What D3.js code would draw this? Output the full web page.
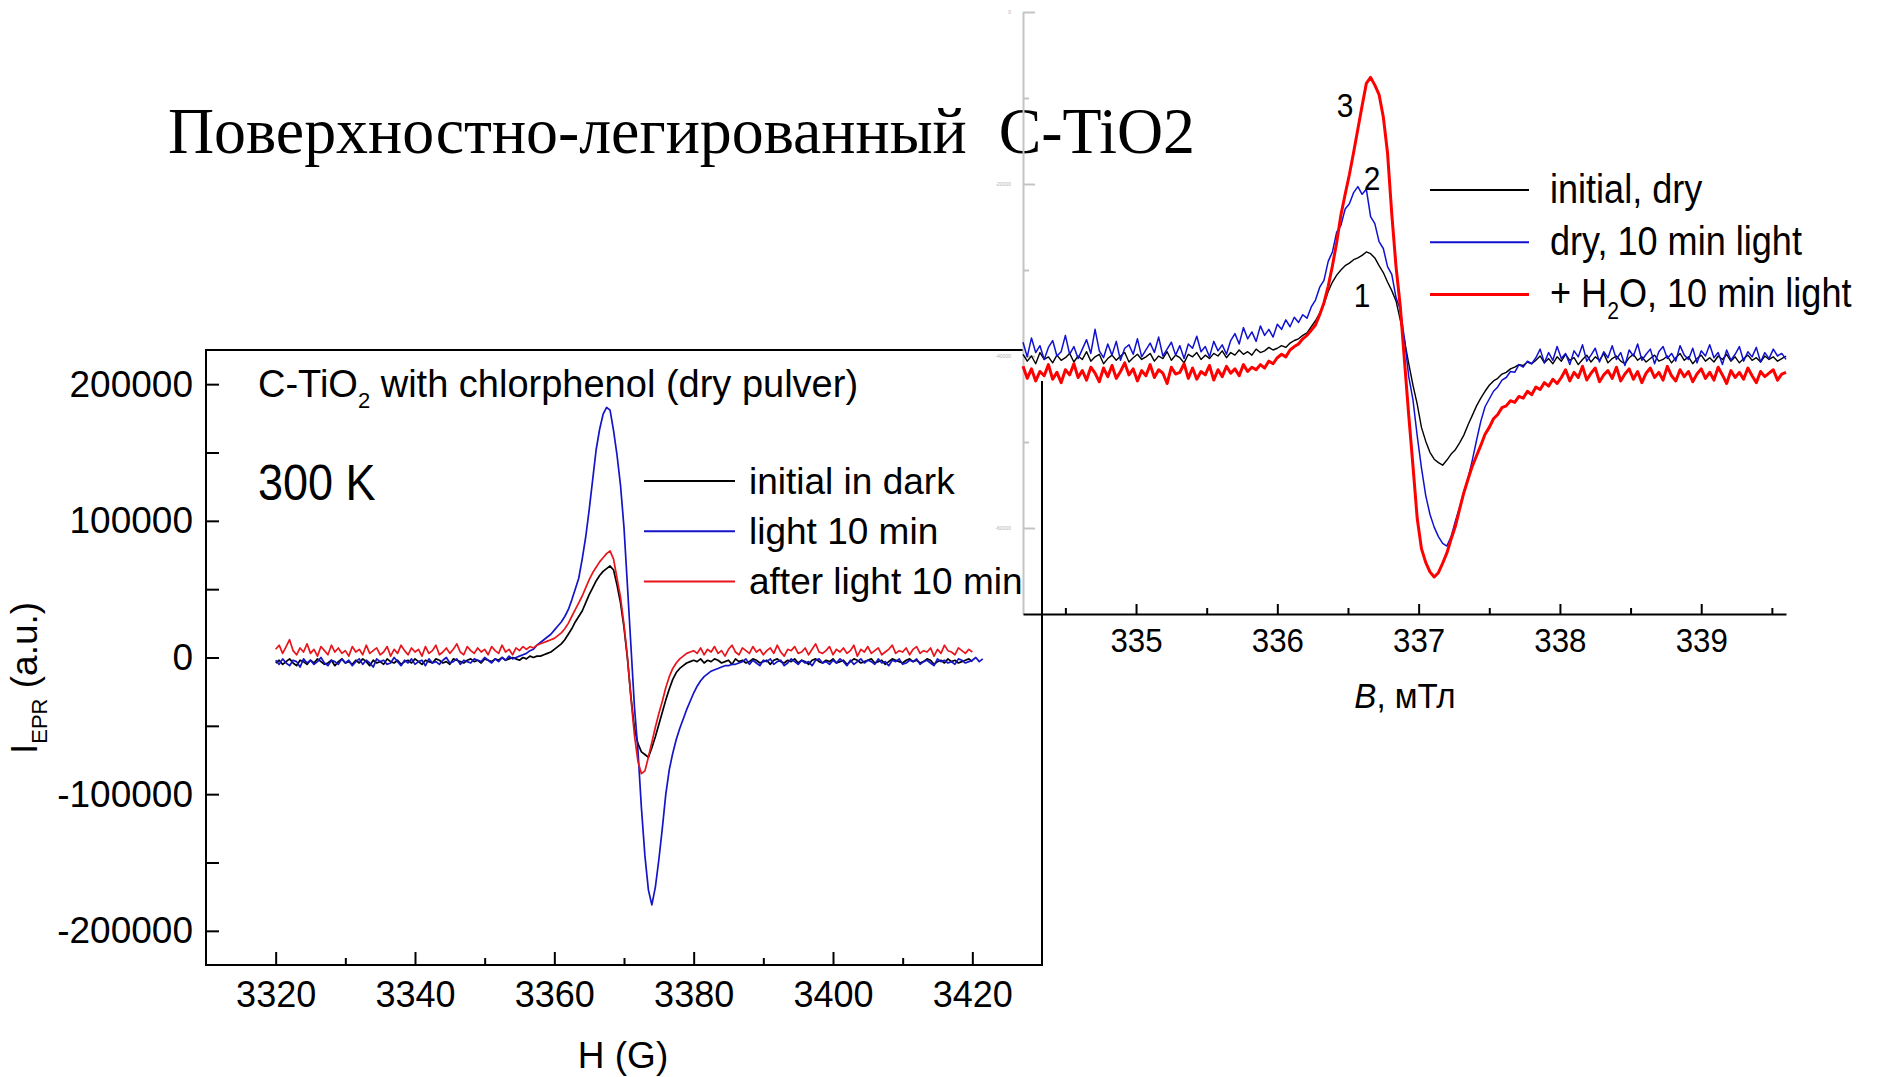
<!DOCTYPE html>
<html>
<head>
<meta charset="utf-8">
<title>EPR C-TiO2</title>
<script src="https://cdn.jsdelivr.net/npm/d3@7"></script>
<style>
  html, body { margin: 0; padding: 0; background: #fff; }
  svg { display: block; }
</style>
</head>
<body>
<svg id="chart" width="1880" height="1077"></svg>
<script>
// ---------- Left panel: C-TiO2 with chlorphenol, 300 K (field in G, intensity in units of 1000) ----------
const leftStart = 3320;   // G
const leftStep = 0.5;     // G
const leftTitle = "C-TiO";
const leftTemp = "300 K";
const leftSeriesNames = ["initial in dark", "light 10 min", "after light 10 min"];
const leftXTicks = [3320, 3340, 3360, 3380, 3400, 3420];
const leftXMinor = [3330, 3350, 3370, 3390, 3410];
const leftYTicks = [-200000, -100000, 0, 100000, 200000];
const leftYMinor = [-150000, -50000, 50000, 150000];

const darkK = [
  -4,-2,-5,-3,-1,-4,-6,-2,-3,-5,-2,-4,-1,-3,-5,-4,-2,-6,-3,-1,
  -4,-3,-5,-2,-4,-1,-3,-6,-2,-4,-3,-5,-1,-3,-4,-2,-5,-3,-2,-4,
  -1,-3,-5,-2,-3,-4,-1,-2,-4,-3,-5,-1,-2,-3,-4,-2,-1,-3,-2,-4,
  -1,-2,-3,-1,-2,0,-2,-1,0,-1,-2,0,-1,1,0,1,
  1,2,3,4,6,8,10,13,17,21,26,30,34,40,46,51,56,60,63,65,67,64,53,40,22,-1,
  -29,-52,-63,-69,-71,-73,-66,-58,-49,-40,-31,-23,-16,-11,-8,-6,-4,-3,
  -2,-3,-1,-4,-2,-3,-1,-2,-4,-3,-2,-5,-1,-3,-2,-4,-3,-1,-2,-4,
  -3,-2,-5,-2,-1,-3,-4,-2,-3,-1,-4,-2,-3,-5,-2,-1,-3,-4,-2,-3,
  -1,-4,-3,-2,-5,-3,-1,-2,-4,-3,-2,-1,-4,-3,-2,-5,-3,-1,-2,-3,
  -4,-2,-1,-3,-2,-4,-3,-1,-2,-5,-3,-2,-4,-1,-3,-2,-4,-3,-2,-1,
  -3
];
const lightK = [
  -2,-5,-1,-4,-6,-2,-3,-7,-1,-4,-2,-5,-3,0,-4,-6,-2,-3,-5,-1,
  -4,-2,-6,-3,-1,-5,-2,-4,-7,-1,-3,-2,-5,-4,0,-3,-6,-2,-4,-1,
  -5,-3,-2,-6,-1,-4,-3,-5,-2,0,-4,-3,-1,-5,-2,-3,-4,-1,-2,-3,
  0,-2,-4,-1,-3,0,-2,1,-1,0,
  1,2,3,5,6,9,11,13,15,17,20,23,26,30,35,42,50,58,72,88,
  108,130,152,167,178,183,181,166,148,126,95,52,8,-36,-68,-110,-145,-170,-181,-168,
  -148,-125,-100,-82,-70,-60,-52,-45,-38,-32,-26,-21,-17,-14,-12,-10,-9,-8,-7,-6,
  -6,-5,-5,-4,
  -3,-1,-5,-2,-4,-6,-2,-3,-1,-5,-3,-2,-6,-4,-1,-3,-5,-2,-4,-3,
  -6,-2,-1,-4,-3,-5,-2,-4,-1,-3,-6,-2,-5,-3,-1,-4,-2,-3,-5,-1,
  -4,-3,-6,-2,-3,-1,-5,-4,-2,-3,-1,-5,-3,-2,-4,-6,-1,-3,-2,-4,
  -3,-5,-1,-2,-4,-3,-2,0,-3,-1
];
const afterK = [
  6,9,3,8,13,5,2,7,4,10,3,6,1,8,5,2,9,4,7,3,
  5,1,8,4,6,2,9,3,5,7,2,4,8,1,6,3,9,5,2,7,
  4,6,1,8,3,5,9,2,4,7,3,6,10,4,2,8,5,3,7,4,
  6,2,8,5,3,9,4,6,2,7,5,8,
  6,8,7,9,10,11,12,13,14,16,18,21,25,30,35,40,45,51,57,62,
  66,70,73,76,78,72,58,44,24,0,-30,-57,-76,-85,-83,-73,-62,-51,-41,-32,
  -22,-14,-8,-4,-1,1,3,4,
  5,3,7,2,6,4,8,3,5,1,6,9,4,2,7,5,3,8,4,6,
  2,5,7,3,9,4,1,6,5,8,3,4,7,2,6,10,4,3,5,8,
  2,6,4,7,3,5,9,1,6,4,8,3,5,7,2,4,6,9,3,5,
  4,7,2,6,8,3,5,4,7,1,6,3,9,5,4,2,7,5,3,6,
  4
];

// ---------- Right panel: B in mT, signal in units of 1000 ----------
const rightStart = 334.2;  // mT
const rightStep = 0.03;    // mT
const rightSeriesNames = ["initial, dry", "dry, 10 min light", "+ H2O, 10 min light"];
const rightXTicks = [335, 336, 337, 338, 339];
const rightXMinor = [334.5, 335.5, 336.5, 337.5, 338.5, 339.5];
const rightYTicks = [-60000, -40000, -20000, 0];
const rightYMinor = [-50000, -30000, -10000];
const curveTags = [
  { tag: "3", b: 336.48, v: -10800 },
  { tag: "2", b: 336.67, v: -19300 },
  { tag: "1", b: 336.60, v: -32900 }
];

const dryK = [
  -39.8,-40.6,-40.0,-40.9,-39.6,-40.4,-40.1,-40.8,-39.9,-40.5,
  -40.2,-39.7,-40.7,-40.0,-40.4,-39.5,-40.6,-40.1,-39.8,-40.9,
  -40.3,-39.9,-40.5,-40.0,-39.6,-40.7,-40.2,-39.8,-40.4,-40.1,
  -39.7,-40.6,-40.0,-40.3,-39.5,-40.5,-39.9,-40.2,-40.8,-39.8,
  -40.1,-39.6,-40.4,-39.9,-40.3,-39.7,-40.0,-39.4,-40.2,-39.6,
  -39.9,-39.3,-39.8,-39.5,-39.9,-39.2,-39.6,-39.4,-39.0,-39.3,
  -39.1,-38.8,-39.0,-38.5,-38.2,-38.0,-37.6,-37.3,-36.6,-35.9,
  -35.0,-34.0,-32.5,-31.4,-30.6,-30.0,-29.5,-29.2,-28.8,-28.6,
  -28.3,-27.9,-28.1,-28.6,-29.5,-30.3,-31.4,-32.4,-33.6,-35.8,
  -38.2,-40.9,-43.4,-45.6,-48.3,-49.9,-51.2,-52.0,-52.4,-52.7,
  -52.1,-51.4,-50.9,-50.1,-49.2,-48.0,-46.9,-45.8,-44.9,-44.1,
  -43.4,-42.9,-42.6,-42.1,-41.9,-41.5,-41.3,-41.0,-41.1,-40.7,
  -40.9,-40.5,
  -40.0,-40.8,-40.3,-40.9,-40.1,-40.6,-39.8,-40.5,-40.2,-41.0,
  -40.4,-39.9,-40.7,-40.1,-40.5,-39.7,-40.8,-40.3,-40.0,-40.6,
  -40.9,-40.2,-39.8,-40.5,-40.1,-40.7,-40.3,-39.9,-40.6,-40.4,
  -40.0,-40.8,-40.2,-39.7,-40.5,-40.1,-40.9,-40.3,-39.9,-40.6,
  -40.2,-40.7,-40.0,-40.4,-39.8,-40.6,-40.1,-40.8,-40.3,-39.9,
  -40.5,-40.2,-40.7,-40.0,-40.4,-40.1,-40.6,-40.3,-40.0
];
const dryLightK = [
  -38.4,-40.1,-37.9,-39.6,-38.8,-40.4,-39.0,-38.2,-40.0,-39.5,
  -37.6,-39.8,-38.9,-40.3,-39.2,-38.1,-39.7,-36.9,-39.4,-40.2,
  -38.6,-39.9,-38.3,-40.5,-39.1,-38.7,-39.8,-38.0,-40.1,-39.3,
  -38.5,-39.6,-37.8,-40.0,-39.2,-38.4,-39.9,-38.8,-40.3,-38.6,
  -39.1,-37.7,-39.5,-38.9,-40.1,-38.3,-39.4,-38.7,-39.8,-38.2,
  -37.4,-38.6,-36.7,-38.0,-37.2,-38.3,-36.5,-37.6,-36.9,-37.8,
  -36.3,-36.9,-35.8,-36.6,-35.5,-36.1,-35.2,-35.6,
  -34.3,-33.5,-32.0,-31.2,-29.0,-27.9,-25.6,-24.8,-22.9,-22.3,
  -21.0,-20.3,-21.2,-20.6,-23.8,-24.6,-26.7,-27.5,-29.6,-30.5,
  -33.2,-34.6,-38.0,-42.4,-45.1,-49.3,-53.0,-56.2,-58.4,-59.9,
  -61.0,-61.8,-62.1,-61.0,-59.2,-57.6,-55.8,-54.2,-52.1,-49.8,
  -47.6,-45.9,-45.0,-44.1,-43.6,-42.8,-42.5,-41.8,-41.9,-41.0,
  -41.3,-40.6,-40.9,-40.2,
  -39.2,-40.8,-39.6,-40.5,-38.9,-40.3,-39.7,-41.0,-39.4,-40.1,
  -38.7,-40.6,-39.9,-39.1,-40.7,-39.5,-40.2,-38.8,-40.4,-39.6,
  -41.1,-39.3,-40.0,-38.6,-40.5,-39.8,-39.2,-40.9,-39.5,-38.9,
  -40.3,-39.7,-40.6,-38.8,-39.9,-40.4,-39.1,-40.8,-39.4,-40.0,
  -38.7,-40.2,-39.6,-41.0,-39.3,-40.5,-39.8,-38.9,-40.6,-39.5,
  -40.1,-39.0,-40.7,-39.6,-40.3,-39.2,-40.0,-39.7,-40.4
];
const waterLightK = [
  -41.2,-42.6,-41.5,-42.9,-41.8,-42.3,-41.0,-42.7,-41.9,-43.1,
  -41.6,-42.2,-40.9,-42.5,-41.7,-42.8,-41.3,-42.0,-43.0,-41.4,
  -42.4,-41.1,-42.6,-41.8,-40.8,-42.2,-41.5,-42.9,-41.7,-42.3,
  -41.0,-42.5,-41.6,-42.0,-43.2,-41.3,-42.1,-41.9,-40.9,-42.6,
  -41.4,-42.7,-41.8,-42.2,-41.1,-42.8,-41.6,-42.4,-41.2,-42.0,
  -41.5,-42.3,-41.0,-41.8,-41.3,-41.6,
  -41.0,-41.4,-40.6,-40.9,-40.2,-39.8,-40.1,-39.3,-38.9,-38.6,
  -38.0,-37.6,-37.0,-36.4,-35.2,-33.8,-31.9,-29.5,-26.8,-23.6,
  -21.2,-18.9,-16.3,-13.6,-10.9,-8.3,-7.6,-8.5,-9.6,-12.2,
  -16.4,-23.5,-29.6,-34.2,-40.6,-46.9,-52.8,-58.9,-62.4,-64.0,
  -65.1,-65.7,-65.2,-64.1,-62.9,-61.3,-59.8,-57.8,-55.9,-54.3,
  -52.8,-51.6,-50.4,-49.1,-48.3,-47.3,-46.8,-46.0,-45.8,-45.2,
  -45.4,-44.7,-44.9,-44.1,-44.5,-43.6,-43.9,-43.1,-43.5,-42.7,
  -43.2,-42.5,
  -41.6,-42.9,-41.9,-42.5,-41.2,-42.8,-42.0,-41.4,-43.0,-42.2,
  -41.7,-42.6,-41.3,-42.9,-42.1,-41.5,-42.7,-41.8,-43.1,-42.0,
  -41.4,-42.5,-41.9,-42.8,-41.2,-42.3,-42.9,-41.6,-42.4,-41.8,
  -43.0,-42.1,-41.5,-42.6,-41.9,-42.8,-41.3,-42.2,-43.2,-41.7,
  -42.5,-41.9,-42.7,-41.4,-42.3,-43.1,-41.8,-42.4,-42.0,-41.6,
  -42.8,-42.1,-41.9
];

const pageTitle = "Поверхностно-легированный  C-TiO2";

// ---------- drawing ----------
const SANS = "'Liberation Sans', Arial, Helvetica, sans-serif";
const SERIF = "'Liberation Serif', 'Times New Roman', serif";
const svg = d3.select("#chart");

const toPoints = (start, step, vals) => vals.map((v, i) => ({ x: start + i * step, y: v * 1000 }));

// Heading
svg.append("text")
  .attr("x", 168).attr("y", 153)
  .attr("font-family", SERIF).attr("font-size", 66)
  .attr("textLength", 1027).attr("lengthAdjust", "spacingAndGlyphs")
  .style("white-space", "pre")
  .text(pageTitle);

// ===== Left panel =====
const L = { x0: 206, x1: 1042, y0: 350, y1: 965 };
const xL = d3.scaleLinear().domain([3310, 3430]).range([L.x0, L.x1]);
const yL = d3.scaleLinear().domain([-225000, 225000]).range([L.y1, L.y0]);
const gL = svg.append("g");

function styleAxis(g, fs, color) {
  g.select(".domain").remove();
  g.selectAll(".tick line").attr("stroke", color).attr("stroke-width", 2);
  g.selectAll(".tick text").attr("font-family", SANS).attr("font-size", fs).attr("fill", color === "#000" ? "#000" : color);
}

gL.append("g").attr("transform", `translate(0,${L.y1})`)
  .call(d3.axisBottom(xL).tickValues(leftXTicks).tickSize(-13).tickPadding(16).tickFormat(d => String(d)))
  .call(g => styleAxis(g, 36, "#000"));
gL.append("g").attr("transform", `translate(0,${L.y1})`)
  .call(d3.axisBottom(xL).tickValues(leftXMinor).tickSize(-7).tickFormat(""))
  .call(g => styleAxis(g, 10, "#000"));
gL.append("g").attr("transform", `translate(${L.x0},0)`)
  .call(d3.axisLeft(yL).tickValues(leftYTicks).tickSize(-13).tickPadding(13).tickFormat(d => String(d)))
  .call(g => styleAxis(g, 37, "#000"));
gL.append("g").attr("transform", `translate(${L.x0},0)`)
  .call(d3.axisLeft(yL).tickValues(leftYMinor).tickSize(-13).tickFormat(""))
  .call(g => styleAxis(g, 10, "#000"));

gL.append("rect")
  .attr("x", L.x0).attr("y", L.y0).attr("width", L.x1 - L.x0).attr("height", L.y1 - L.y0)
  .attr("fill", "none").attr("stroke", "#000").attr("stroke-width", 2);

const lineL = d3.line().x(d => xL(d.x)).y(d => yL(d.y));
const leftSeries = [
  { name: leftSeriesNames[0], pts: toPoints(leftStart, leftStep, darkK), color: "#000000" },
  { name: leftSeriesNames[1], pts: toPoints(leftStart, leftStep, lightK), color: "#1414c8" },
  { name: leftSeriesNames[2], pts: toPoints(leftStart, leftStep, afterK), color: "#e8141c" }
];
gL.selectAll("path.trace").data(leftSeries).enter().append("path")
  .attr("class", "trace")
  .attr("d", d => lineL(d.pts))
  .attr("fill", "none").attr("stroke", d => d.color).attr("stroke-width", 1.7)
  .attr("stroke-linejoin", "round");

// Left texts
const t1 = gL.append("text").attr("x", 258).attr("y", 397)
  .attr("font-family", SANS).attr("font-size", 38).attr("fill", "#000");
t1.append("tspan").text(leftTitle);
t1.append("tspan").attr("font-size", 22).attr("dy", 11).text("2");
t1.append("tspan").attr("dy", -11).text(" with chlorphenol (dry pulver)");

gL.append("text").attr("transform", "translate(258,500) scale(0.9,1)")
  .attr("font-family", SANS).attr("font-size", 50).text(leftTemp);

const legL = gL.selectAll("g.leg").data(leftSeries).enter().append("g")
  .attr("class", "leg")
  .attr("transform", (d, i) => `translate(0,${481 + i * 50.3})`);
legL.append("line").attr("x1", 644).attr("x2", 735).attr("y1", 0).attr("y2", 0)
  .attr("stroke", d => d.color).attr("stroke-width", 2);
legL.append("text").attr("x", 749).attr("y", 12.5)
  .attr("font-family", SANS).attr("font-size", 37).text(d => d.name);

// Axis titles
gL.append("text").attr("x", 623).attr("y", 1068).attr("text-anchor", "middle")
  .attr("font-family", SANS).attr("font-size", 37).text("H (G)");
const yt = gL.append("text").attr("transform", "translate(37,678) rotate(-90)")
  .attr("text-anchor", "middle").attr("font-family", SANS).attr("font-size", 37);
yt.append("tspan").text("I");
yt.append("tspan").attr("font-size", 22).attr("dy", 10).text("EPR");
yt.append("tspan").attr("dy", -10).text(" (a.u.)");

// cover the corner of the left frame under the right panel
svg.append("rect").attr("x", 1024).attr("y", 340).attr("width", 26).attr("height", 41).attr("fill", "#fff");

// ===== Right panel =====
const R = { x0: 1023, x1: 1786, y0: 12, y1: 614 };
const xR = d3.scaleLinear().domain([334.2, 339.6]).range([R.x0, R.x1]);
const yR = d3.scaleLinear().domain([-70000, 0]).range([R.y1, R.y0]);
const gR = svg.append("g");

// left axis (light gray)
const yAxR = gR.append("g").attr("transform", `translate(${R.x0},0)`)
  .call(d3.axisLeft(yR).tickValues(rightYTicks).tickSize(-12).tickSizeOuter(0).tickPadding(12).tickFormat(d => String(d)));
yAxR.select(".domain").attr("stroke", "#c4c4c4").attr("stroke-width", 2);
yAxR.selectAll(".tick line").attr("stroke", "#c4c4c4").attr("stroke-width", 2);
yAxR.selectAll(".tick text").attr("font-family", SANS).attr("font-size", 5).attr("fill", "#b0b0b0");
gR.append("g").attr("transform", `translate(${R.x0},0)`)
  .call(d3.axisLeft(yR).tickValues(rightYMinor).tickSize(-6).tickFormat(""))
  .call(g => { g.select(".domain").remove(); g.selectAll(".tick line").attr("stroke", "#c4c4c4").attr("stroke-width", 2); });

// bottom axis
const xAxR = gR.append("g").attr("transform", `translate(0,${R.y1})`)
  .call(d3.axisBottom(xR).tickValues(rightXTicks).tickSize(-10).tickSizeOuter(0).tickPadding(14).tickFormat(d => String(d)));
xAxR.select(".domain").attr("stroke", "#000").attr("stroke-width", 2);
xAxR.selectAll(".tick line").attr("stroke", "#000").attr("stroke-width", 2);
xAxR.selectAll(".tick text").attr("font-family", SANS).attr("font-size", 34).attr("fill", "#000")
  .attr("transform", "scale(0.92,1)");
gR.append("g").attr("transform", `translate(0,${R.y1})`)
  .call(d3.axisBottom(xR).tickValues(rightXMinor).tickSize(-6).tickFormat(""))
  .call(g => { g.select(".domain").remove(); g.selectAll(".tick line").attr("stroke", "#000").attr("stroke-width", 2); });

const lineR = d3.line().x(d => xR(d.x)).y(d => yR(d.y));
const rightSeries = [
  { name: rightSeriesNames[0], pts: toPoints(rightStart, rightStep, dryK), color: "#000000", w: 1.4 },
  { name: rightSeriesNames[1], pts: toPoints(rightStart, rightStep, dryLightK), color: "#1010d0", w: 1.5 },
  { name: rightSeriesNames[2], pts: toPoints(rightStart, rightStep, waterLightK), color: "#ff0000", w: 3 }
];
gR.selectAll("path.trace").data(rightSeries).enter().append("path")
  .attr("class", "trace")
  .attr("d", d => lineR(d.pts))
  .attr("fill", "none").attr("stroke", d => d.color).attr("stroke-width", d => d.w)
  .attr("stroke-linejoin", "round");

// curve numbers
gR.selectAll("text.tag").data(curveTags).enter().append("text")
  .attr("class", "tag")
  .attr("transform", d => `translate(${xR(d.b)},${yR(d.v)}) scale(0.88,1)`)
  .attr("dy", "0.36em").attr("text-anchor", "middle")
  .attr("font-family", SANS).attr("font-size", 34).text(d => d.tag);

// legend
const legR = gR.selectAll("g.leg").data(rightSeries).enter().append("g")
  .attr("class", "leg")
  .attr("transform", (d, i) => `translate(0,${190 + i * 52.2})`);
legR.append("line").attr("x1", 1430).attr("x2", 1529).attr("y1", 0).attr("y2", 0)
  .attr("stroke", d => d.color).attr("stroke-width", d => d.w > 2 ? 3 : 2);
legR.each(function (d) {
  const t = d3.select(this).append("text")
    .attr("transform", "translate(1550,13) scale(0.88,1)")
    .attr("font-family", SANS).attr("font-size", 41);
  const m = d.name.match(/^(.*H)2(O.*)$/);
  if (m) {
    t.append("tspan").text(m[1]);
    t.append("tspan").attr("font-size", 24).attr("dy", 12).text("2");
    t.append("tspan").attr("dy", -12).text(m[2]);
  } else {
    t.text(d.name);
  }
});

// axis title
const bt = gR.append("text").attr("transform", "translate(1405,708) scale(0.92,1)")
  .attr("text-anchor", "middle").attr("font-family", SANS).attr("font-size", 36);
bt.append("tspan").attr("font-style", "italic").text("B");
bt.append("tspan").text(", мТл");
</script>
</body>
</html>
